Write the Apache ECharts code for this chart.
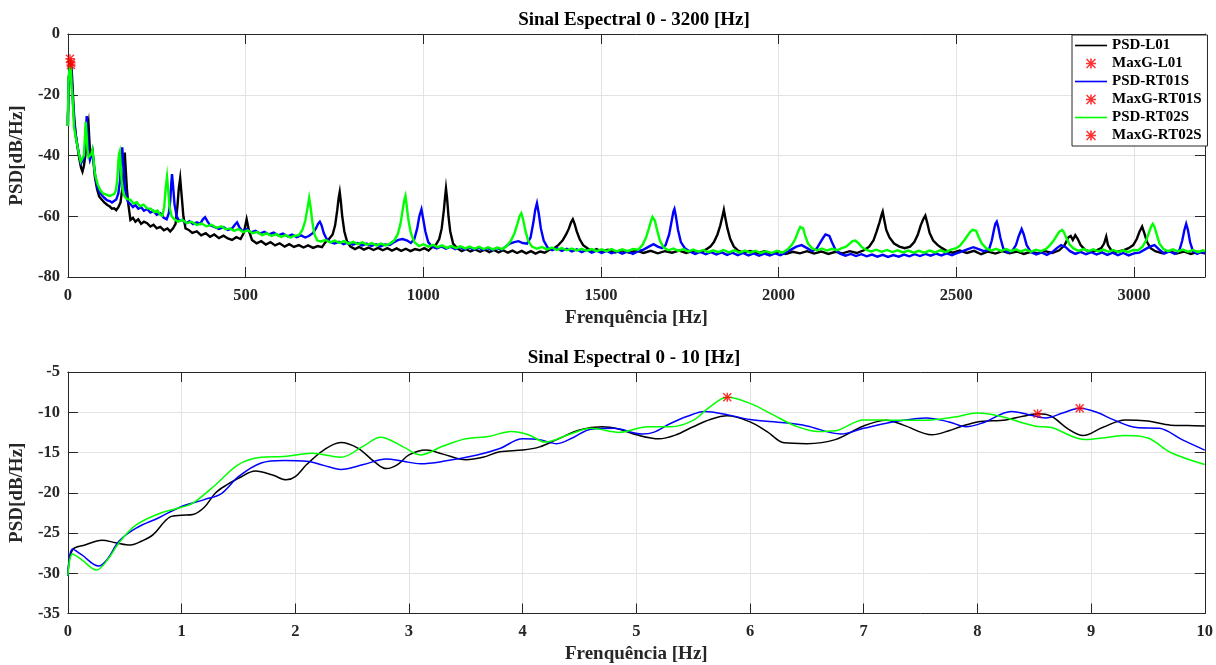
<!DOCTYPE html>
<html>
<head>
<meta charset="utf-8">
<script src="https://cdn.jsdelivr.net/npm/echarts@6/dist/echarts.min.js"></script>
<style>
  html, body { margin: 0; padding: 0; background: #ffffff; }
  #chart { width: 1216px; height: 665px; }
</style>
</head>
<body>
<div id="chart"></div>
<script>
// ---- Spectra, 0 - 10 Hz: [frequency Hz, PSD dB/Hz] ----
const lowL01 = [[0,-30.3],[0.04,-27.1],[0.15,-26.5],[0.3,-25.9],[0.42,-26.2],[0.55,-26.5],[0.65,-26.0],[0.75,-25.2],[0.9,-23.0],[1.0,-22.8],[1.1,-22.7],[1.2,-21.8],[1.3,-20.0],[1.4,-19.0],[1.5,-18.2],[1.65,-17.3],[1.8,-17.8],[1.92,-18.4],[2.0,-18.0],[2.1,-16.5],[2.25,-14.7],[2.4,-13.75],[2.55,-14.45],[2.7,-16.2],[2.8,-17.0],[2.9,-16.5],[3.0,-15.3],[3.15,-14.7],[3.3,-15.2],[3.5,-15.9],[3.65,-15.6],[3.8,-14.9],[4.0,-14.7],[4.15,-14.3],[4.3,-13.4],[4.5,-12.2],[4.7,-11.8],[4.85,-12.1],[5.0,-12.8],[5.2,-13.3],[5.35,-12.8],[5.5,-11.8],[5.65,-10.9],[5.8,-10.45],[6.0,-11.2],[6.15,-12.4],[6.3,-13.8],[6.5,-13.9],[6.75,-13.4],[7.0,-11.7],[7.2,-11.0],[7.35,-11.6],[7.6,-12.8],[7.75,-12.3],[7.85,-11.8],[8.0,-11.2],[8.25,-10.95],[8.4,-10.5],[8.53,-10.2],[8.65,-10.5],[8.8,-12.1],[8.93,-12.9],[9.1,-11.9],[9.3,-10.95],[9.5,-11.1],[9.7,-11.6],[9.85,-11.65],[10,-11.7]];
const lowRT01S = [[0,-30.3],[0.04,-27.0],[0.12,-27.7],[0.27,-29.1],[0.35,-28.2],[0.45,-26.0],[0.6,-24.4],[0.8,-23.1],[1.0,-21.7],[1.2,-20.85],[1.35,-20.1],[1.5,-18.0],[1.7,-16.3],[1.9,-16.0],[2.1,-16.1],[2.25,-16.6],[2.4,-17.1],[2.6,-16.5],[2.8,-15.8],[2.95,-16.1],[3.1,-16.4],[3.3,-16.1],[3.6,-15.3],[3.8,-14.5],[4.0,-13.3],[4.15,-13.4],[4.3,-13.9],[4.45,-13.1],[4.6,-12.1],[4.8,-12.0],[5.05,-12.7],[5.15,-12.5],[5.3,-11.4],[5.45,-10.5],[5.6,-9.9],[5.8,-10.3],[6.0,-10.9],[6.3,-11.3],[6.5,-11.7],[6.8,-12.7],[7.0,-12.0],[7.3,-11.1],[7.55,-10.7],[7.75,-11.2],[7.9,-11.8],[8.05,-11.3],[8.3,-9.9],[8.45,-10.3],[8.6,-10.7],[8.75,-10.1],[8.9,-9.5],[9.05,-10.0],[9.2,-10.95],[9.4,-11.9],[9.6,-12.0],[9.8,-13.4],[10,-14.7]];
const lowRT02S = [[0,-30.3],[0.04,-27.6],[0.12,-28.3],[0.25,-29.6],[0.35,-28.3],[0.45,-26.2],[0.6,-24.0],[0.8,-22.6],[1.0,-21.8],[1.1,-21.3],[1.3,-19.0],[1.5,-16.5],[1.7,-15.6],[1.9,-15.5],[2.15,-15.1],[2.4,-15.6],[2.6,-14.2],[2.75,-13.1],[2.95,-14.3],[3.1,-15.3],[3.3,-14.2],[3.5,-13.3],[3.7,-13.0],[3.9,-12.4],[4.05,-12.8],[4.2,-13.7],[4.4,-12.8],[4.6,-12.0],[4.85,-12.5],[5.1,-11.8],[5.3,-11.8],[5.5,-11.0],[5.65,-9.3],[5.8,-8.15],[6.0,-8.9],[6.2,-10.3],[6.4,-11.7],[6.6,-12.4],[6.75,-12.3],[7.0,-10.95],[7.3,-11.0],[7.6,-10.95],[7.8,-10.6],[8.0,-10.1],[8.2,-10.5],[8.5,-11.7],[8.65,-11.9],[8.95,-13.4],[9.15,-13.1],[9.3,-12.9],[9.5,-13.2],[9.7,-15.0],[10,-16.5]];

// ---- Spectra, 10 - 3200 Hz: [frequency Hz, PSD dB/Hz] ----
const highL01 = [[11,-12.5],[13,-17],[15,-22],[18,-28],[22,-33],[27,-37],[32,-41],[37,-44],[41,-45.3],[45,-43.5],[49,-40],[53,-36],[56,-31],[58,-29.5],[60,-34],[63,-40],[66,-40.5],[69,-38.5],[72,-42],[76,-47],[82,-51],[88,-53.5],[95,-54.5],[103,-55.5],[111,-56.3],[118,-56.8],[124,-57.5],[130,-57.4],[136,-58],[142,-57],[148,-55.5],[153,-51],[157,-45],[160,-39],[163,-45],[166,-51],[170,-56],[176,-61.2],[183,-60.5],[190,-61.8],[198,-61],[206,-62.5],[214,-61.8],[223,-62.3],[232,-63.4],[241,-62.8],[250,-64],[260,-63.5],[270,-64.6],[280,-64],[288,-65],[296,-64],[303,-62.5],[308,-57],[312,-51],[316,-47.5],[320,-53],[325,-60],[331,-64],[340,-64.5],[350,-65.5],[363,-65],[375,-66.3],[388,-65.6],[400,-66.8],[412,-66],[425,-67.2],[438,-66.4],[450,-67.3],[462,-67.8],[474,-66.9],[486,-67.5],[495,-65.5],[503,-61],[510,-65],[518,-67.8],[531,-68.9],[544,-68.2],[557,-69.3],[570,-68.5],[583,-69.6],[596,-68.9],[610,-70],[623,-69.2],[636,-70.1],[650,-69.5],[663,-70.3],[676,-69.6],[690,-70.4],[703,-69.8],[715,-70.2],[725,-68.5],[735,-67.5],[745,-66],[752,-63],[758,-58],[762,-54],[765,-52],[768,-55],[772,-60],[778,-65],[786,-68.5],[795,-70],[808,-70.8],[820,-70.1],[833,-71],[846,-70.3],[860,-71.1],[873,-70.4],[886,-71.2],[899,-70.5],[912,-71.3],[925,-70.6],[938,-71.4],[951,-70.7],[964,-71.5],[977,-70.8],[990,-71.2],[1003,-70.5],[1015,-71.3],[1025,-70.2],[1035,-69.5],[1045,-67.5],[1052,-64],[1058,-58],[1062,-53],[1064,-50.8],[1067,-54],[1071,-60],[1076,-65],[1084,-69],[1095,-70.5],[1108,-71.5],[1120,-70.8],[1133,-71.6],[1146,-70.9],[1160,-71.7],[1173,-71],[1186,-71.8],[1199,-71.1],[1212,-71.9],[1225,-71.2],[1238,-72],[1251,-71.3],[1264,-72.1],[1277,-71.4],[1290,-72.2],[1303,-71.5],[1316,-72.3],[1329,-71.6],[1342,-72],[1355,-71],[1368,-70.5],[1380,-69.5],[1392,-68],[1402,-66],[1410,-64],[1416,-62],[1421,-61],[1426,-62.5],[1432,-65],[1440,-67.5],[1450,-69.5],[1462,-70.5],[1475,-71.5],[1488,-70.8],[1500,-71.6],[1520,-71],[1540,-71.9],[1560,-71.2],[1580,-72],[1600,-71.3],[1620,-72.1],[1640,-71.4],[1660,-72.2],[1680,-71.5],[1700,-72],[1720,-71.3],[1740,-72.1],[1760,-71.4],[1780,-71.8],[1795,-71],[1808,-70],[1818,-68.5],[1828,-66],[1836,-63],[1842,-60],[1846,-57.9],[1850,-60.5],[1856,-64],[1864,-67.5],[1874,-70],[1886,-71.3],[1900,-72],[1920,-71.4],[1940,-72.2],[1960,-71.5],[1980,-72.3],[2000,-71.6],[2020,-72.4],[2040,-71.7],[2060,-72.2],[2080,-71.5],[2100,-72.3],[2120,-71.6],[2140,-72.4],[2160,-71.7],[2180,-72.2],[2200,-71.5],[2220,-72.1],[2240,-71.2],[2255,-70],[2267,-68],[2276,-65],[2284,-62],[2290,-59.5],[2293,-58.5],[2297,-61],[2303,-64.5],[2312,-67],[2325,-69],[2340,-70],[2355,-70.5],[2370,-70],[2382,-68.5],[2392,-66],[2400,-63],[2407,-61],[2413,-59.8],[2418,-62],[2425,-65.5],[2435,-68],[2448,-69.5],[2460,-70.5],[2475,-71.5],[2490,-72],[2510,-71.3],[2530,-72.1],[2550,-71.4],[2570,-72.5],[2590,-71.6],[2610,-72.3],[2630,-71.5],[2650,-72.2],[2670,-71.6],[2690,-72.4],[2710,-71.7],[2730,-72.2],[2750,-71.5],[2770,-72.1],[2790,-71.2],[2805,-69.5],[2815,-67],[2822,-66.5],[2828,-67.8],[2835,-66.2],[2842,-67.5],[2850,-69.5],[2862,-71],[2878,-71.8],[2895,-71.2],[2908,-70.5],[2916,-69],[2922,-66.7],[2927,-69.5],[2935,-71],[2950,-71.8],[2970,-71.2],[2985,-70.5],[2998,-69.5],[3008,-67.5],[3016,-65],[3023,-63.4],[3029,-65.5],[3037,-68.5],[3047,-70.5],[3060,-71.5],[3080,-72.2],[3100,-71.5],[3120,-72.3],[3140,-71.6],[3160,-72.4],[3180,-71.7],[3200,-72.2]];
const highRT01S = [[11,-16],[13,-20],[15,-24],[18,-29],[22,-33.5],[27,-37],[32,-40],[37,-42.5],[41,-43],[45,-41],[49,-36],[51,-31],[53,-27],[55,-32],[58,-39],[62,-41.5],[66,-40],[69,-38.5],[72,-41.5],[76,-46],[82,-50],[88,-52],[95,-53],[103,-54],[111,-54.8],[118,-55],[124,-55.5],[130,-55],[136,-54.5],[142,-52.5],[147,-48],[150,-41],[153,-37.3],[156,-43],[160,-50],[165,-54],[170,-55.5],[176,-56],[183,-57],[190,-56.3],[198,-57.5],[206,-57],[214,-58.2],[223,-57.6],[232,-58.8],[241,-58.3],[250,-59.5],[260,-59],[270,-60.5],[278,-61],[284,-59],[288,-55],[291,-49],[293,-46.1],[296,-50],[300,-56],[306,-60],[313,-61.5],[322,-61.2],[332,-62.3],[342,-61.6],[352,-62.6],[363,-62],[372,-62.5],[380,-61],[386,-60.3],[392,-61.5],[400,-63],[412,-63.5],[425,-64.2],[438,-63.6],[450,-64.5],[462,-64],[470,-62.8],[476,-62],[482,-63.5],[492,-65],[503,-64.2],[515,-65.3],[528,-64.8],[540,-65.7],[553,-65.1],[566,-66],[579,-65.4],[592,-66.3],[605,-65.7],[618,-66.6],[631,-66],[644,-66.9],[656,-66.3],[668,-67],[678,-66.5],[690,-65.5],[698,-64],[704,-62.5],[709,-61.8],[714,-63],[720,-65.5],[728,-67.5],[738,-68.5],[750,-69],[763,-68.4],[776,-69.2],[789,-68.6],[802,-69.4],[815,-68.8],[828,-69.6],[841,-69],[854,-69.8],[867,-69.2],[880,-69.9],[893,-69.3],[906,-69.5],[918,-68.5],[930,-67.8],[942,-67.5],[955,-68],[965,-68.8],[975,-67.5],[983,-64],[989,-60],[995,-57.7],[1000,-61],[1006,-65],[1014,-68.5],[1025,-70],[1038,-70.6],[1051,-69.9],[1064,-70.7],[1077,-70],[1090,-70.8],[1103,-70.1],[1116,-70.9],[1129,-70.2],[1142,-71],[1155,-70.3],[1168,-71.1],[1181,-70.4],[1194,-71.2],[1207,-70.5],[1220,-71],[1232,-70],[1244,-69],[1256,-68.5],[1268,-68.2],[1280,-68.8],[1292,-69],[1302,-67],[1310,-62],[1315,-58],[1320,-55.7],[1325,-59],[1331,-64],[1339,-68],[1350,-70.3],[1363,-71.2],[1376,-70.5],[1390,-71.4],[1404,-70.7],[1418,-71.6],[1432,-70.9],[1446,-71.8],[1460,-71.1],[1474,-72],[1488,-71.3],[1502,-72.1],[1516,-71.4],[1530,-72.2],[1545,-71.5],[1560,-72.3],[1575,-71.6],[1590,-72.4],[1605,-71.5],[1620,-71],[1635,-70],[1648,-69.2],[1660,-70],[1672,-70.5],[1682,-69.5],[1692,-66],[1700,-61],[1704,-58.5],[1707,-57.6],[1711,-60],[1717,-64.5],[1725,-68.5],[1736,-70.5],[1750,-71.6],[1765,-72.4],[1780,-71.7],[1795,-72.5],[1810,-71.8],[1825,-72.6],[1840,-71.9],[1855,-72.7],[1870,-72],[1885,-72.8],[1900,-72.1],[1915,-72.9],[1930,-72.2],[1945,-73],[1960,-72.3],[1975,-72.9],[1990,-72.2],[2005,-72.8],[2020,-72],[2035,-71],[2050,-70],[2065,-69.5],[2080,-70.5],[2095,-71.5],[2108,-70.5],[2118,-68.5],[2126,-67],[2132,-66],[2137,-65.9],[2143,-66.5],[2150,-68.5],[2160,-71],[2173,-72.3],[2188,-73],[2203,-72.4],[2218,-73.1],[2233,-72.5],[2248,-73.2],[2263,-72.6],[2278,-73.3],[2293,-72.7],[2308,-73.4],[2323,-72.8],[2338,-73.3],[2353,-72.6],[2368,-73.2],[2383,-72.5],[2398,-73.1],[2413,-72.4],[2428,-73],[2443,-72.3],[2458,-72.9],[2473,-72.2],[2488,-72.8],[2503,-72.1],[2518,-71.5],[2533,-70.8],[2548,-70.2],[2563,-70.8],[2578,-71.5],[2592,-71],[2600,-68],[2606,-64.5],[2610,-62.5],[2614,-61.8],[2618,-63.5],[2624,-67],[2632,-70.5],[2645,-72],[2658,-71.3],[2668,-69.5],[2676,-66.5],[2684,-64.2],[2690,-66],[2698,-69.5],[2710,-71.8],[2725,-72.6],[2740,-71.9],[2755,-72.7],[2770,-71.8],[2783,-70.5],[2795,-69.5],[2808,-70.2],[2820,-71.5],[2835,-72.4],[2850,-71.7],[2865,-72.5],[2880,-71.8],[2895,-72.6],[2910,-71.9],[2925,-72.7],[2940,-72],[2955,-72.8],[2970,-72.1],[2985,-72.9],[3000,-72.2],[3015,-72],[3030,-71],[3045,-70],[3058,-69.5],[3070,-70.8],[3085,-72.3],[3100,-71.6],[3115,-72.4],[3128,-71.2],[3136,-68],[3142,-64.5],[3147,-62.5],[3152,-64.5],[3158,-68.5],[3166,-71.5],[3178,-72.4],[3190,-71.7],[3200,-72.2]];
const highRT02S = [[11,-17],[13,-20.6],[15,-25],[17,-30.5],[22,-34],[27,-37],[32,-40],[36,-42],[41,-42.5],[45,-40],[48,-34],[50,-28.9],[52,-32],[55,-38],[58,-40.5],[62,-41],[66,-39.5],[69,-38.2],[72,-41],[75,-45],[78,-47],[84,-49.5],[91,-51.4],[99,-52.5],[106,-52.8],[111,-53],[118,-53.3],[124,-53],[130,-52.7],[135,-51.5],[139,-48],[142,-42],[144,-39.5],[146,-38.7],[148,-42],[151,-48],[155,-52],[160,-53.5],[166,-54.3],[176,-54.6],[185,-55.8],[194,-55.4],[203,-56.7],[213,-56.2],[223,-57.4],[233,-57.5],[243,-58.6],[252,-58.1],[260,-59.5],[266,-59.8],[271,-57],[275,-51],[279,-47],[282,-51],[286,-57],[292,-60],[300,-61],[310,-61.8],[322,-61.2],[335,-62.3],[348,-61.8],[363,-62.9],[376,-62.4],[390,-63.3],[404,-62.8],[418,-63.8],[432,-63.3],[444,-64.3],[456,-64],[468,-64.8],[480,-64.2],[493,-65.2],[506,-64.6],[520,-65.6],[533,-65.2],[546,-66.2],[560,-65.6],[573,-66.5],[586,-65.9],[600,-66.8],[613,-66.2],[626,-67],[638,-66.4],[650,-66.2],[660,-64.5],[668,-61.5],[674,-57.5],[679,-54],[683,-57],[688,-62],[694,-66],[702,-68],[712,-68.3],[725,-67.8],[738,-68.6],[751,-68],[764,-68.8],[777,-68.2],[790,-69],[803,-68.4],[816,-69.2],[829,-68.6],[842,-69.4],[855,-68.8],[868,-69.6],[881,-69],[894,-69.6],[906,-69],[918,-68],[928,-66],[936,-62.5],[942,-58],[947,-54.5],[950,-53.3],[953,-56],[958,-61],[965,-65.5],[975,-68.5],[988,-69.8],[1001,-69.2],[1014,-70],[1027,-69.4],[1040,-70.2],[1053,-69.6],[1066,-70.4],[1079,-69.8],[1092,-70.5],[1105,-69.9],[1118,-70.6],[1131,-70],[1144,-70.7],[1157,-70.1],[1170,-70.8],[1183,-70.2],[1196,-70.9],[1209,-70.3],[1222,-70.8],[1235,-69.8],[1247,-68],[1257,-65.5],[1265,-62.5],[1271,-60],[1276,-59],[1281,-61],[1287,-64.5],[1295,-68],[1306,-70],[1320,-70.7],[1334,-70.1],[1348,-70.9],[1362,-70.3],[1376,-71.1],[1390,-70.5],[1404,-71.2],[1418,-70.6],[1432,-71.3],[1446,-70.7],[1460,-71.4],[1474,-70.8],[1488,-71.5],[1502,-70.9],[1516,-71.5],[1530,-70.8],[1545,-71.6],[1560,-70.9],[1575,-71.5],[1590,-70.8],[1605,-71],[1617,-69.5],[1627,-67],[1635,-64],[1641,-61.5],[1645,-60.2],[1648,-59.8],[1652,-61.5],[1658,-64.5],[1666,-68],[1677,-70.3],[1690,-71.2],[1704,-70.6],[1718,-71.4],[1732,-70.8],[1746,-71.6],[1760,-71],[1774,-71.7],[1788,-71.1],[1802,-71.8],[1816,-71.2],[1830,-71.8],[1845,-71.1],[1860,-71.9],[1875,-71.2],[1890,-72],[1905,-71.3],[1920,-72],[1935,-71.4],[1950,-72.1],[1965,-71.5],[1980,-72.1],[1995,-71.4],[2010,-72],[2025,-71],[2037,-69.5],[2047,-67.5],[2055,-65],[2061,-63.5],[2065,-63.2],[2069,-64],[2075,-66.5],[2083,-69],[2094,-70.5],[2108,-71.2],[2122,-70.6],[2136,-71.3],[2150,-70.7],[2164,-71.2],[2178,-70.5],[2190,-70],[2200,-69],[2208,-68.2],[2216,-68],[2224,-68.8],[2233,-70],[2245,-71],[2260,-71.6],[2275,-71],[2290,-71.7],[2305,-71.1],[2320,-71.8],[2335,-71.2],[2350,-71.9],[2365,-71.3],[2380,-72],[2395,-71.4],[2410,-72],[2425,-71.3],[2440,-71.9],[2455,-71.2],[2470,-71.8],[2485,-71],[2500,-70.5],[2512,-69.5],[2522,-68],[2531,-66.5],[2539,-65.2],[2546,-64.5],[2551,-64.2],[2556,-64.8],[2563,-66.8],[2572,-69],[2584,-70.5],[2598,-71.3],[2612,-70.7],[2626,-71.4],[2640,-70.8],[2654,-71.5],[2668,-70.9],[2682,-71.6],[2696,-71],[2710,-71.7],[2724,-71],[2738,-71.5],[2752,-70.8],[2764,-69.5],[2774,-68],[2782,-66.5],[2789,-65.2],[2794,-64.7],[2798,-64.5],[2803,-65.3],[2810,-67.2],[2819,-69.3],[2830,-70.6],[2844,-71.4],[2858,-70.8],[2872,-71.5],[2886,-70.9],[2900,-71.6],[2914,-71],[2928,-71.7],[2942,-71.1],[2956,-71.8],[2970,-71.2],[2984,-71.8],[2998,-71.1],[3012,-71.2],[3024,-70],[3034,-68],[3042,-65.5],[3048,-63.5],[3053,-62.5],[3058,-63.5],[3064,-66],[3072,-69],[3083,-70.8],[3096,-71.5],[3110,-70.9],[3124,-71.6],[3138,-71],[3152,-71.7],[3166,-71.1],[3180,-71.8],[3194,-71.2],[3200,-71.5]];

// ---- Names, colours, axis ranges ----
const psdNames = ['PSD-L01', 'PSD-RT01S', 'PSD-RT02S'];
const maxNames = ['MaxG-L01', 'MaxG-RT01S', 'MaxG-RT02S'];
const psdColors = ['#000000', '#0000ff', '#00ff00'];
const markColor = '#ff0000';
const titles = ['Sinal Espectral 0 - 3200 [Hz]', 'Sinal Espectral 0 - 10 [Hz]'];
const xTitle = 'Frenquência [Hz]';
const yTitle = 'PSD[dB/Hz]';
const topX = { min: 0, max: 3200, interval: 500 };
const topY = { min: -80, max: 0, interval: 20 };
const botX = { min: 0, max: 10, interval: 1 };
const botY = { min: -35, max: -5, interval: 5 };

const lowSets = [lowL01, lowRT01S, lowRT02S];
const highSets = [highL01, highRT01S, highRT02S];

// ---- Styling helpers ----
const FONT = 'Liberation Serif';
const INK = '#262626';
const GRIDC = '#e3e3e3';
const STAR = 'path://M4.2,0H5.8V10H4.2Z M0,4.2H10V5.8H0Z M1.1,0L10,8.9L8.9,10L0,1.1Z M8.9,0L10,1.1L1.1,10L0,8.9Z';
const LINEICON = 'path://M0,0H32V1.6H0Z';
const plainNumber = v => String(v);

// the highest point of a spectrum over 0-10 Hz
function peakOf(arr) {
  return arr.reduce((best, p) => (p[1] > best[1] ? p : best), arr[0]);
}

function xAxisMain(grid, r) {
  return {
    type: 'value', gridIndex: grid, position: 'bottom', min: r.min, max: r.max, interval: r.interval,
    name: xTitle, nameLocation: 'middle', nameGap: 31.5,
    nameTextStyle: { fontFamily: FONT, fontWeight: 'bold', fontSize: 19, color: INK },
    axisLine: { show: true, onZero: false, lineStyle: { color: INK, width: 1 } },
    axisTick: { show: true, inside: true, length: 10, lineStyle: { color: INK, width: 1 } },
    axisLabel: { show: true, margin: 10, showMaxLabel: grid === 1, formatter: plainNumber,
                 fontFamily: FONT, fontWeight: 'bold', fontSize: 16.5, color: INK },
    splitLine: { show: true, lineStyle: { color: GRIDC, width: 1 } }
  };
}
function xAxisTop(grid, r) {
  return {
    type: 'value', gridIndex: grid, position: 'top', min: r.min, max: r.max, interval: r.interval,
    axisLine: { show: true, onZero: false, lineStyle: { color: INK, width: 1 } },
    axisTick: { show: true, inside: true, length: 10, lineStyle: { color: INK, width: 1 } },
    axisLabel: { show: false }, splitLine: { show: false }
  };
}
function yAxisMain(grid, r) {
  return {
    type: 'value', gridIndex: grid, position: 'left', min: r.min, max: r.max, interval: r.interval,
    name: yTitle, nameLocation: 'middle', nameGap: 33,
    nameTextStyle: { fontFamily: FONT, fontWeight: 'bold', fontSize: 19, color: INK },
    axisLine: { show: true, onZero: false, lineStyle: { color: INK, width: 1 } },
    axisTick: { show: true, inside: true, length: 10, lineStyle: { color: INK, width: 1 } },
    axisLabel: { show: true, margin: 8, formatter: plainNumber,
                 fontFamily: FONT, fontWeight: 'bold', fontSize: 16.5, color: INK },
    splitLine: { show: true, lineStyle: { color: GRIDC, width: 1 } }
  };
}
function yAxisRight(grid, r) {
  return {
    type: 'value', gridIndex: grid, position: 'right', min: r.min, max: r.max, interval: r.interval,
    axisLine: { show: true, onZero: false, lineStyle: { color: INK, width: 1 } },
    axisTick: { show: true, inside: true, length: 10, lineStyle: { color: INK, width: 1 } },
    axisLabel: { show: false }, splitLine: { show: false }
  };
}

// ---- Series: spectrum lines and their 0-10 Hz maxima, in both panels ----
const series = [];
[0, 1].forEach(panel => {
  psdNames.forEach((name, i) => {
    const data = panel === 0 ? lowSets[i].concat(highSets[i]) : lowSets[i];
    series.push({
      name: name, type: 'line', xAxisIndex: panel * 2, yAxisIndex: panel * 2,
      data: data, showSymbol: false, symbol: 'none', smooth: panel === 1 ? 0.35 : false,
      lineStyle: { color: psdColors[i], width: panel === 0 ? 2.4 : 1.5, join: 'miter' },
      itemStyle: { color: psdColors[i] }, silent: true, z: 2
    });
    series.push({
      name: maxNames[i], type: 'scatter', xAxisIndex: panel * 2, yAxisIndex: panel * 2,
      data: [peakOf(lowSets[i])], symbol: STAR, symbolSize: 9,
      itemStyle: { color: markColor }, silent: true, z: 4
    });
  });
});

const legendData = [];
psdNames.forEach((name, i) => {
  legendData.push({ name: name, icon: LINEICON });
  legendData.push({ name: maxNames[i], icon: STAR });
});

const chart = echarts.init(document.getElementById('chart'), null, { renderer: 'canvas' });
chart.setOption({
  animation: false,
  backgroundColor: '#ffffff',
  title: [
    { text: titles[0], left: 634, top: 11, textAlign: 'center', padding: 0,
      textStyle: { fontFamily: FONT, fontWeight: 'bold', fontSize: 19, color: '#000' } },
    { text: titles[1], left: 634, top: 348.5, textAlign: 'center', padding: 0,
      textStyle: { fontFamily: FONT, fontWeight: 'bold', fontSize: 19, color: '#000' } }
  ],
  legend: {
    data: legendData, orient: 'vertical', left: 1072, top: 35,
    padding: [3, 6, 3, 3], itemGap: 3, itemWidth: 32, itemHeight: 10,
    backgroundColor: '#ffffff', borderColor: INK, borderWidth: 1,
    selectedMode: false,
    textStyle: { fontFamily: FONT, fontWeight: 'bold', fontSize: 15, color: '#000' }
  },
  grid: [
    { left: 63, right: 11, top: 34, height: 243 },
    { left: 63, right: 11, top: 372, height: 242 }
  ],
  xAxis: [xAxisMain(0, topX), xAxisTop(0, topX), xAxisMain(1, botX), xAxisTop(1, botX)],
  yAxis: [yAxisMain(0, topY), yAxisRight(0, topY), yAxisMain(1, botY), yAxisRight(1, botY)],
  series: series
});
</script>
</body>
</html>
